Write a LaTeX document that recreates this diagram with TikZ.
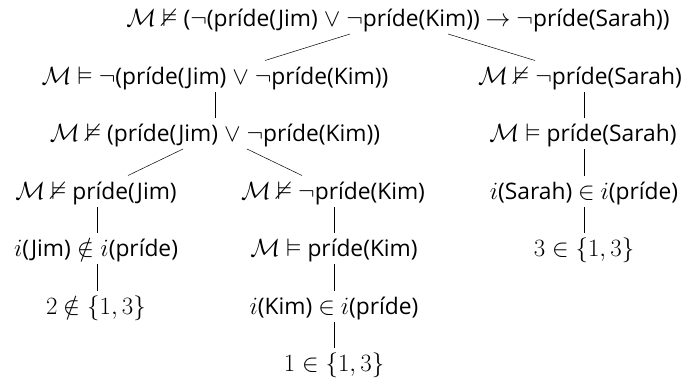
\documentclass[tikz,border=0pt]{standalone}
\usepackage{amssymb}
\usepackage{fontspec}
\setmainfont{Open Sans}[Scale=0.9]
\newfontfamily\lmmath{Latin Modern Math}
\newcommand{\Mm}{$\mathcal{M}$}
\newcommand{\Ent}{$\vDash$}
\newcommand{\NEnt}{$\nvDash$}
\newcommand{\Ng}{$\neg$}
\newcommand{\NotIn}{{\lmmath ∉}}
\begin{document}
\begin{tikzpicture}[x=1pt,y=-1pt,
  lbl/.style={anchor=base,inner sep=0pt,outer sep=0pt,text height=20.5pt,text depth=5pt,outer ysep=3pt,
    font=\fontsize{25.3}{30}\selectfont},
  edge/.style={draw=black,line width=0.5pt}]
\path[use as bounding box] (0,0) rectangle (688,380);
% nodes
\node[lbl] (r)  at (398,26)  {\Mm{} \NEnt{} (\Ng(príde(Jim) $\vee$ \Ng príde(Kim)) $\to$ \Ng príde(Sarah))};
\node[lbl] (l1) at (215,84)  {\Mm{} \Ent{} \Ng(príde(Jim) $\vee$ \Ng príde(Kim))};
\node[lbl] (r1) at (580,84)  {\Mm{} \NEnt{} \Ng príde(Sarah)};
\node[lbl] (l2) at (215,141) {\Mm{} \NEnt{} (príde(Jim) $\vee$ \Ng príde(Kim))};
\node[lbl] (r2) at (583,141) {\Mm{} \Ent{} príde(Sarah)};
\node[lbl] (a3) at (96,199)  {\Mm{} \NEnt{} príde(Jim)};
\node[lbl] (b3) at (333,199) {\Mm{} \NEnt{} \Ng príde(Kim)};
\node[lbl] (r3) at (584,199) {$i$(Sarah) $\in$ $i$(príde)};
\node[lbl] (a4) at (96,256)  {$i$(Jim)\hspace{0.28em}\NotIn\hspace{0.28em}$i$(príde)};
\node[lbl] (b4) at (334,256) {\Mm{} \Ent{} príde(Kim)};
\node[lbl] (r4) at (584,256) {$3\in\{1,3\}$};
\node[lbl] (a5) at (96,314)  {$2$\hspace{0.28em}\NotIn\hspace{0.28em}$\{1,3\}$};
\node[lbl] (b5) at (334,314) {$i$(Kim) $\in$ $i$(príde)};
\node[lbl] (b6) at (334,371) {$1\in\{1,3\}$};
% edges
\draw[edge] ([xshift=-48pt]r.south) -- ([xshift=50pt]l1.north);
\draw[edge] ([xshift=50pt]r.south) -- ([xshift=-45pt]r1.north);
\draw[edge] (l1.south) -- (l2.north);
\draw[edge] ([xshift=-32pt]l2.south) -- ([xshift=32pt]a3.north);
\draw[edge] ([xshift=32pt]l2.south) -- ([xshift=-31pt]b3.north);
\draw[edge] ([xshift=4pt]r1.south) -- ([xshift=1pt]r2.north);
\draw[edge] ([xshift=1pt]r2.south) -- (r3.north);
\draw[edge] (r3.south) -- (r4.north);
\draw[edge] ([xshift=1pt]a3.south) -- ([xshift=1pt]a4.north);
\draw[edge] ([xshift=1pt]a4.south) -- ([xshift=1pt]a5.north);
\draw[edge] ([xshift=1pt]b3.south) -- (b4.north);
\draw[edge] (b4.south) -- (b5.north);
\draw[edge] (b5.south) -- (b6.north);
\end{tikzpicture}
\end{document}
